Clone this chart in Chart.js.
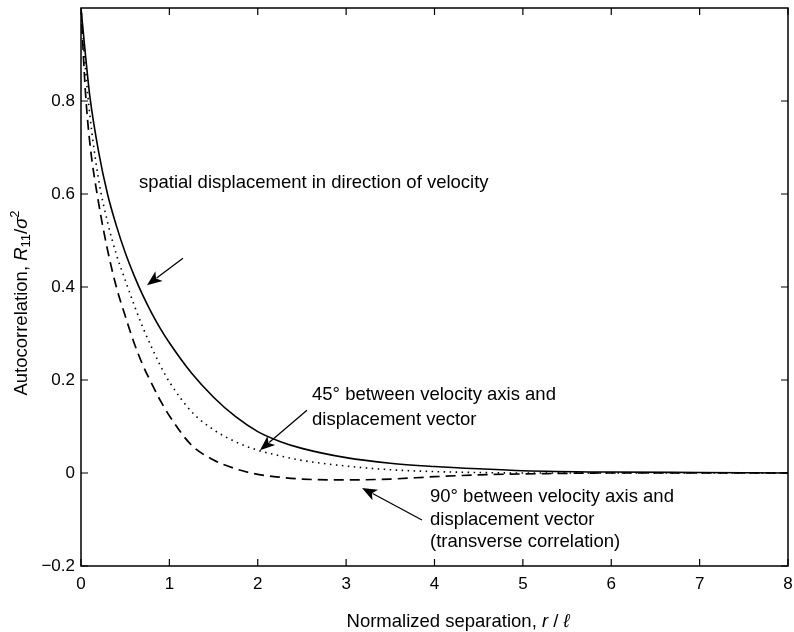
<!DOCTYPE html>
<html>
<head>
<meta charset="utf-8">
<script src="https://cdn.jsdelivr.net/npm/chart.js@4.4.1/dist/chart.umd.min.js"></script>
<style>
  html, body { margin: 0; padding: 0; background: #fff; }
</style>
</head>
<body>
<canvas id="myChart" width="794" height="632"></canvas>
<script>
// normalized separation r / l
const separation = [0, 0.05, 0.1, 0.2, 0.3, 0.4, 0.5, 0.6, 0.7, 0.8, 0.9, 1.0, 1.25, 1.5, 1.75, 2.0, 2.25, 2.5, 3.0, 3.5, 4.0, 4.5, 5.0, 6.0, 7.0, 8.0];
// displacement along velocity (solid)
const longitudinal = [1.0, 0.90, 0.81, 0.69, 0.60, 0.532, 0.474, 0.425, 0.382, 0.344, 0.31, 0.28, 0.215, 0.163, 0.121, 0.089, 0.068, 0.053, 0.033, 0.021, 0.014, 0.009, 0.005, 0.002, 0.001, 0.0];
// 45 degrees (dotted)
const diagonal45 = [1.0, 0.87, 0.77, 0.63, 0.54, 0.47, 0.415, 0.362, 0.313, 0.27, 0.23, 0.196, 0.132, 0.093, 0.067, 0.049, 0.037, 0.027, 0.015, 0.007, 0.003, 0.001, 0.0, 0.0, 0.0, 0.0];
// 90 degrees, transverse (dashed)
const transverse = [1.0, 0.82, 0.71, 0.58, 0.48, 0.40, 0.338, 0.28, 0.232, 0.192, 0.155, 0.123, 0.06, 0.028, 0.009, -0.003, -0.009, -0.013, -0.015, -0.013, -0.008, -0.004, -0.002, 0.0, 0.0, 0.0];

const xTickValues = [0, 1, 2, 3, 4, 5, 6, 7, 8];
const yTickValues = [-0.2, 0, 0.2, 0.4, 0.6, 0.8];

const FONT = '"Liberation Sans", Arial, Helvetica, sans-serif';

const ctx = document.getElementById("myChart").getContext("2d");

function points(ys) {
  return separation.map((x, i) => ({ x: x, y: ys[i] }));
}

function arrow(c, x1, y1, x2, y2) {
  const a = Math.atan2(y2 - y1, x2 - x1);
  const len = 15, half = 6;
  c.beginPath();
  c.moveTo(x1, y1);
  c.lineTo(x2 - Math.cos(a) * len * 0.8, y2 - Math.sin(a) * len * 0.8);
  c.stroke();
  c.beginPath();
  c.moveTo(x2, y2);
  c.lineTo(x2 - Math.cos(a) * len - Math.sin(a) * half, y2 - Math.sin(a) * len + Math.cos(a) * half);
  c.lineTo(x2 - Math.cos(a) * len * 0.75, y2 - Math.sin(a) * len * 0.75);
  c.lineTo(x2 - Math.cos(a) * len + Math.sin(a) * half, y2 - Math.sin(a) * len - Math.cos(a) * half);
  c.closePath();
  c.fill();
}

// text made of parts with their own font and vertical shift
function richText(c, parts, x, y) {
  let w = 0;
  parts.forEach(p => { c.font = p.font; w += c.measureText(p.t).width; });
  let cx = x - w / 2;
  parts.forEach(p => {
    c.font = p.font;
    c.fillText(p.t, cx, y + (p.dy || 0));
    cx += c.measureText(p.t).width;
  });
}

const annotations = [
  { x: 0.656, y: 0.624, lh: 0, lines: ["spatial displacement in direction of velocity"] },
  { x: 2.614, y: 0.168, lh: 25, lines: ["45\u00b0 between velocity axis and", "displacement vector"] },
  { x: 3.949, y: -0.052, lh: 22.5, lines: ["90\u00b0 between velocity axis and", "displacement vector", "(transverse correlation)"] }
];
const arrows = [
  { from: [1.154, 0.462], to: [0.747, 0.404] },
  { from: [2.557, 0.135], to: [2.025, 0.049] },
  { from: [3.858, -0.101], to: [3.180, -0.032] }
];

const framePlugin = {
  id: 'frame',
  afterDraw(chart) {
    const c = chart.ctx;
    const a = chart.chartArea;
    const xs = chart.scales.x, ys = chart.scales.y;
    c.save();
    c.strokeStyle = '#000';
    c.fillStyle = '#000';
    c.lineWidth = 1.5;
    c.strokeRect(a.left, a.top, a.right - a.left, a.bottom - a.top);
    // inward ticks on all four sides
    c.lineWidth = 1.2;
    c.beginPath();
    xTickValues.forEach(v => {
      const px = xs.getPixelForValue(v);
      c.moveTo(px, a.bottom); c.lineTo(px, a.bottom - 7);
      c.moveTo(px, a.top); c.lineTo(px, a.top + 7);
    });
    yTickValues.forEach(v => {
      const py = ys.getPixelForValue(v);
      c.moveTo(a.left, py); c.lineTo(a.left + 7, py);
      c.moveTo(a.right, py); c.lineTo(a.right - 7, py);
    });
    c.stroke();

    // annotations
    c.font = '18.5px ' + FONT;
    c.textBaseline = 'middle';
    c.textAlign = 'left';
    annotations.forEach(n => {
      const px = xs.getPixelForValue(n.x), py = ys.getPixelForValue(n.y);
      n.lines.forEach((t, i) => c.fillText(t, px, py + i * n.lh));
    });
    c.lineWidth = 1.3;
    arrows.forEach(r => {
      arrow(c, xs.getPixelForValue(r.from[0]), ys.getPixelForValue(r.from[1]),
        xs.getPixelForValue(r.to[0]), ys.getPixelForValue(r.to[1]));
    });

    // axis titles
    c.textBaseline = 'middle';
    const norm = '18.5px ' + FONT, ital = 'italic 18.5px ' + FONT, small = '13px ' + FONT;
    richText(c, [
      { t: 'Normalized separation, ', font: norm },
      { t: 'r', font: ital },
      { t: ' / ', font: norm },
      { t: '\u2113', font: ital }
    ], 458, 622);
    c.save();
    c.translate(22, 303);
    c.rotate(-Math.PI / 2);
    richText(c, [
      { t: 'Autocorrelation, ', font: norm },
      { t: 'R', font: ital },
      { t: '11', font: small, dy: 4 },
      { t: '/', font: norm },
      { t: '\u03c3', font: ital },
      { t: '2', font: small, dy: -7 }
    ], 0, 0);
    c.restore();
    c.restore();
  }
};

const data = {
  datasets: [
    {
      label: 'longitudinal',
      data: points(longitudinal),
      borderColor: '#000',
      borderWidth: 1.6
    },
    {
      label: '45 deg',
      data: points(diagonal45),
      borderColor: '#000',
      borderWidth: 1.6,
      borderDash: [1.5, 4.5]
    },
    {
      label: 'transverse',
      data: points(transverse),
      borderColor: '#000',
      borderWidth: 1.7,
      borderDash: [10, 6]
    }
  ]
};

const config = {
  type: 'line',
  data: data,
  options: {
    responsive: false,
    animation: false,
    devicePixelRatio: 1,
    layout: { padding: { top: 8, right: 6, left: 0, bottom: 0 } },
    elements: {
      point: { radius: 0 },
      line: { cubicInterpolationMode: 'monotone', fill: false }
    },
    plugins: {
      legend: { display: false },
      tooltip: { enabled: false }
    },
    scales: {
      x: {
        type: 'linear',
        min: 0,
        max: 8,
        afterFit: s => { s.height = 66; s.paddingLeft = 0; s.paddingRight = 0; },
        afterBuildTicks: s => { s.ticks = xTickValues.map(v => ({ value: v })); },
        ticks: { color: '#000', padding: 8, font: { size: 17, family: FONT }, maxRotation: 0 },
        grid: { display: false, drawTicks: false },
        border: { display: false }
      },
      y: {
        type: 'linear',
        min: -0.2,
        max: 1,
        afterFit: s => { s.width = 81; s.paddingTop = 0; s.paddingBottom = 0; },
        afterBuildTicks: s => { s.ticks = yTickValues.map(v => ({ value: v })); },
        ticks: {
          color: '#000',
          padding: 6,
          font: { size: 17, family: FONT },
          callback: v => v === 0 ? '0' : (v < 0 ? '\u2212' + Math.abs(v).toFixed(1) : v.toFixed(1))
        },
        grid: { display: false, drawTicks: false },
        border: { display: false }
      }
    }
  },
  plugins: [framePlugin]
};

const myChart = new Chart(ctx, config);
</script>
</body>
</html>
